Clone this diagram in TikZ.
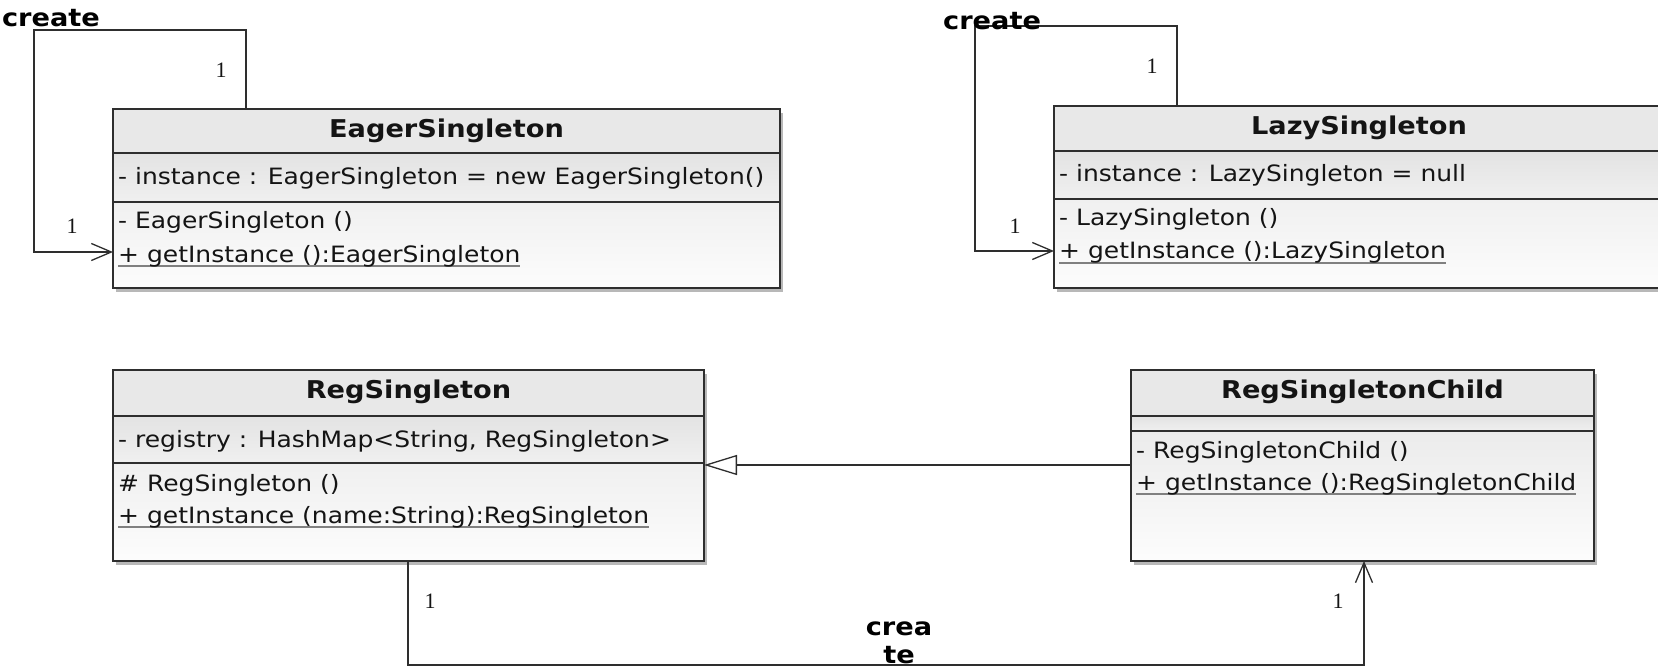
\documentclass[tikz,border=0pt]{standalone}
\usepackage{fontspec}
\setmainfont{DejaVu Sans}[FakeStretch=1.11]
\newfontfamily\numfont{Liberation Serif}
\usetikzlibrary{arrows.meta,calc,shadows}
\definecolor{ln}{HTML}{2E2E2E}
\definecolor{tx}{HTML}{141414}
\newcommand\myul[1]{\setbox0\hbox{#1}\rlap{\color{black!50}\rule[-5pt]{\wd0}{2pt}}\box0}
\begin{document}
\begin{tikzpicture}[x=1pt,y=-1pt,
  classbox/.style={rectangle, inner sep=0pt, outer sep=0pt, anchor=north west,
    top color=black!11, bottom color=black!1,
    drop shadow={shadow xshift=3pt, shadow yshift=-4pt, opacity=0.28, fill=black}},
  hdr/.style={fill=black!9},
  att/.style={top color=black!11, bottom color=black!6},
  outline/.style={draw=ln, line width=1.6pt},
  sep/.style={draw=ln, line width=1.6pt},
  title/.style={font=\fontsize{24.5}{29}\selectfont\bfseries, text=tx, anchor=base, inner sep=0pt},
  body/.style={font=\fontsize{22.5}{27}\selectfont, text=tx, anchor=base west, inner sep=0pt},
  lbl/.style={font=\fontsize{24.5}{28}\selectfont\bfseries, text=black, inner sep=0pt, align=center},
  num/.style={font=\numfont\fontsize{22}{26}\selectfont, text=tx, inner sep=0pt},
  assoc/.style={draw=ln, line width=1.3pt, -{Straight Barb[length=20pt,width=17pt,line width=1.3pt]}},
  gen/.style={draw=ln, line width=1.3pt, -{Triangle[open, length=33pt, width=20pt, fill=white, line width=1.3pt]}}
]
\useasboundingbox (0,0) rectangle (1658,671);

% ---------- EagerSingleton ----------
\node[classbox, minimum width=667pt, minimum height=179pt] (eager) at (113,109) {};
\path[hdr] (eager.north west) rectangle ($(eager.north east)+(0,44)$);
\path[att] ($(eager.north west)+(0,44)$) rectangle ($(eager.north east)+(0,93)$);
\draw[sep] ($(eager.north west)+(0,44)$) -- ($(eager.north east)+(0,44)$);
\draw[sep] ($(eager.north west)+(0,93)$) -- ($(eager.north east)+(0,93)$);
\draw[outline] (eager.north west) rectangle (eager.south east);
\node[title] (eagerT) at ($(eager.north)+(0,29)$) {EagerSingleton};
\node[body] (eagerA) at ($(eager.north west)+(5,76)$) {- instance : EagerSingleton = new EagerSingleton()};
\node[body] (eagerO1) at ($(eager.north west)+(5,120)$) {- EagerSingleton ()};
\node[body] (eagerO2) at ($(eager.north west)+(5,153)$) {\myul{+ getInstance ():EagerSingleton}};

% ---------- LazySingleton ----------
\node[classbox, minimum width=610pt, minimum height=182pt] (lazy) at (1054,106) {};
\path[hdr] (lazy.north west) rectangle ($(lazy.north east)+(0,45)$);
\path[att] ($(lazy.north west)+(0,45)$) rectangle ($(lazy.north east)+(0,93)$);
\draw[sep] ($(lazy.north west)+(0,45)$) -- ($(lazy.north east)+(0,45)$);
\draw[sep] ($(lazy.north west)+(0,93)$) -- ($(lazy.north east)+(0,93)$);
\draw[outline] (lazy.north west) rectangle (lazy.south east);
\node[title] (lazyT) at ($(lazy.north)+(0,29)$) {LazySingleton};
\node[body] (lazyA) at ($(lazy.north west)+(5,76)$) {- instance : LazySingleton = null};
\node[body] (lazyO1) at ($(lazy.north west)+(5,120)$) {- LazySingleton ()};
\node[body] (lazyO2) at ($(lazy.north west)+(5,153)$) {\myul{+ getInstance ():LazySingleton}};

% ---------- RegSingleton ----------
\node[classbox, minimum width=591pt, minimum height=191pt] (reg) at (113,370) {};
\path[hdr] (reg.north west) rectangle ($(reg.north east)+(0,46)$);
\path[att] ($(reg.north west)+(0,46)$) rectangle ($(reg.north east)+(0,93)$);
\draw[sep] ($(reg.north west)+(0,46)$) -- ($(reg.north east)+(0,46)$);
\draw[sep] ($(reg.north west)+(0,93)$) -- ($(reg.north east)+(0,93)$);
\draw[outline] (reg.north west) rectangle (reg.south east);
\node[title] (regT) at ($(reg.north)+(0,28)$) {RegSingleton};
\node[body] (regA) at ($(reg.north west)+(5,77)$) {- registry : HashMap<String, RegSingleton>};
\node[body] (regO1) at ($(reg.north west)+(5,121)$) {\# RegSingleton ()};
\node[body] (regO2) at ($(reg.north west)+(5,153)$) {\myul{+ getInstance (name:String):RegSingleton}};

% ---------- RegSingletonChild ----------
\node[classbox, minimum width=463pt, minimum height=191pt] (child) at (1131,370) {};
\path[hdr] (child.north west) rectangle ($(child.north east)+(0,46)$);
\path[att] ($(child.north west)+(0,46)$) rectangle ($(child.north east)+(0,61)$);
\draw[sep] ($(child.north west)+(0,46)$) -- ($(child.north east)+(0,46)$);
\draw[sep] ($(child.north west)+(0,61)$) -- ($(child.north east)+(0,61)$);
\draw[outline] (child.north west) rectangle (child.south east);
\node[title] (childT) at ($(child.north)+(0,28)$) {RegSingletonChild};
\node[body] (childO1) at ($(child.north west)+(5,88)$) {- RegSingletonChild ()};
\node[body] (childO2) at ($(child.north west)+(5,120)$) {\myul{+ getInstance ():RegSingletonChild}};

% ---------- connectors ----------
\coordinate (eloop) at (34,30);
\draw[assoc] ($(eager.north west)+(133,0)$) |- (eloop) |- ($(eager.north west)+(0,143)$);
\node[lbl, anchor=east] (ecreate) at (100,18) {create};
\node[num] (en1) at (221,70) {1};
\node[num] (en2) at (72,226) {1};

\coordinate (lloop) at (975,26);
\draw[assoc] ($(lazy.north west)+(123,0)$) |- (lloop) |- ($(lazy.north west)+(0,145)$);
\node[lbl, anchor=west] (lcreate) at (943,21) {create};
\node[num] (ln1) at (1152,66) {1};
\node[num] (ln2) at (1015,226) {1};

\draw[gen] ($(child.north west)+(0,95)$) -- ($(reg.north east)+(0,95)$);

\coordinate (cbot) at (408,665);
\draw[assoc] ($(reg.south west)+(295,0)$) -- (cbot) -| ($(child.south west)+(233,0)$);
\node[lbl] (rcreate) at (899,643) {crea\\te};
\node[num] (rn1) at (430,601) {1};
\node[num] (rn2) at (1338,601) {1};
\end{tikzpicture}
\end{document}
